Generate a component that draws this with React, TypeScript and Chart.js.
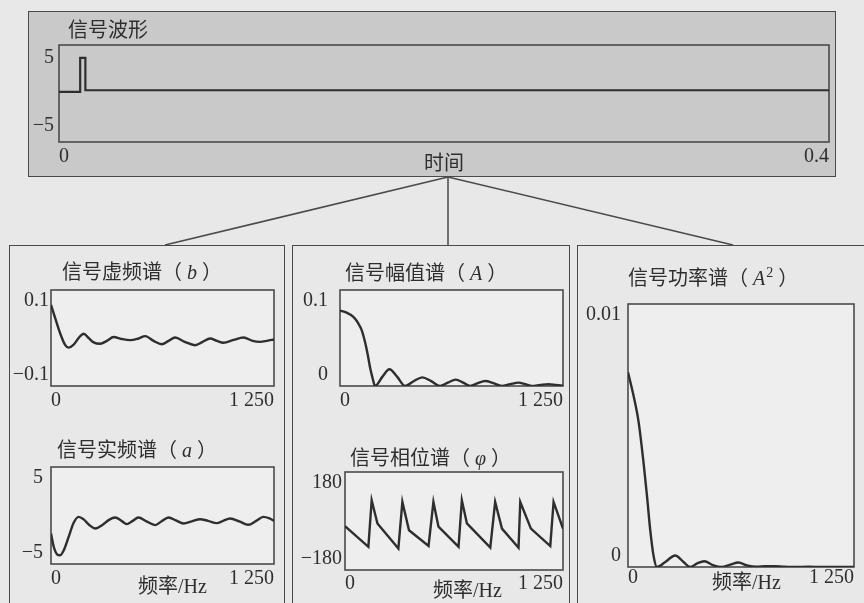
import React, { useEffect, useRef } from "react";
import { Chart, registerables } from "chart.js";
Chart.register(...registerables);

// ---------- data ----------
// time signal (s, value)
const sigTime = [0, 0.011, 0.011, 0.0137, 0.0137, 0.4];
const sigVals = [0, 0, 5, 5, 0.25, 0.25];

// imaginary spectrum b (Hz, value)
const imagFreq = [0, 24, 52, 80, 99, 127, 155, 183, 211, 239, 276, 313, 351, 395, 444, 490, 528, 575, 621, 659, 696, 750, 808, 850, 892, 930, 967, 1023, 1079, 1130, 1172, 1210, 1250];
const imagVals = [0.069, 0.041, 0.009, -0.015, -0.02, -0.014, 0.0, 0.009, 0.0, -0.009, -0.012, -0.006, 0.002, -0.002, -0.0045, -0.001, 0.004, -0.006, -0.013, -0.006, 0.001, -0.008, -0.015, -0.008, -0.001, -0.006, -0.01, -0.004, 0.001, -0.006, -0.008, -0.006, -0.003];

// real spectrum a (Hz, value)
const realFreq = [0, 15, 34, 50, 71, 99, 127, 155, 183, 216, 248, 290, 325, 360, 395, 425, 458, 490, 535, 584, 620, 659, 700, 743, 790, 836, 880, 929, 965, 1004, 1055, 1106, 1150, 1190, 1225, 1250];
const realVals = [-1.85, -3.2, -4.0, -4.1, -3.6, -2.2, -0.75, -0.14, -0.4, -1.0, -1.34, -0.95, -0.45, -0.21, -0.55, -0.89, -0.55, -0.21, -0.6, -0.99, -0.6, -0.21, -0.5, -0.82, -0.6, -0.38, -0.55, -0.79, -0.55, -0.31, -0.6, -0.96, -0.55, -0.14, -0.3, -0.55];

// amplitude spectrum A (Hz, value)
const ampFreq = [0, 37, 75, 100, 122, 140, 155, 170, 183, 196, 237, 277, 321, 365, 413, 462, 511, 561, 605, 649, 690, 730, 772, 814, 860, 907, 954, 1001, 1038, 1076, 1122, 1169, 1210, 1250];
const ampVals = [0.0785, 0.0765, 0.072, 0.066, 0.058, 0.046, 0.033, 0.018, 0.008, 0.0, 0.0095, 0.0174, 0.0095, 0.0, 0.005, 0.009, 0.005, 0.0, 0.0036, 0.0066, 0.0036, 0.0, 0.0029, 0.0052, 0.0029, 0.0, 0.0019, 0.0035, 0.0019, 0.0, 0.0011, 0.002, 0.0011, 0.0002];

// phase spectrum phi (Hz, degrees)
const phaseFreq = [0, 134, 153, 186, 306, 329, 367, 479, 507, 536, 651, 670, 699, 833, 861, 900, 995, 1005, 1066, 1177, 1196, 1250];
const phaseVals = [-19, -95, 76, -9, -101, 70, -34, -92, 70, -21, -95, 76, -9, -98, 70, -28, -98, 70, -28, -92, 70, -28];

// power spectrum A^2 (Hz, value)
const powFreq = [0, 31, 59, 87, 105, 123, 142, 160, 206, 261, 307, 344, 381, 422, 473, 519, 565, 611, 658, 712, 760, 814, 861, 907, 1001, 1076, 1169, 1250];
const powVals = [0.0074, 0.0065, 0.0055, 0.0039, 0.0027, 0.0014, 0.0004, 0, 0.00019, 0.00044, 0.00019, 0, 0.00013, 0.00022, 0.00006, 0, 0.00009, 0.00017, 0.00006, 0.00001, 0.00003, 0.00003, 0.00001, 0, 0.00001, 0, 0.000004, 0];

// tick values
const timeTicks = [0, 0.4];
const freqTicks = [0, 1250];
const sigTicks = [-5, 5];
const imagTicks = [-0.1, 0.1];
const realTicks = [-5, 5];
const ampTicks = [0, 0.1];
const phaseTicks = [-180, 180];
const powTicks = [0, 0.01];

// ---------- styles ----------
const INK = "#2e2e2e";
const FRAME = "#4a4a4a";
const PAGE = "#e8e8e8";
const BOX = "#c9c9c9";
const PLOT_BG = "#eeeeee";
const SERIF = "'Liberation Serif', 'Times New Roman', serif";
const MIX = "'Liberation Serif', 'Noto Sans CJK SC', serif";

const fmtNum = (v: number) => {
  const s = Math.abs(v) >= 1000 ? String(v).replace(/(\d)(\d{3})$/, "$1 $2") : String(v);
  return s.replace("-", "\u2212");
};

const framePlugin = {
  id: "frame",
  beforeDatasetsDraw(chart: any, _a: any, o: any) {
    const { ctx, chartArea: a } = chart;
    ctx.save();
    if (o.bg) {
      ctx.fillStyle = o.bg;
      ctx.fillRect(a.left, a.top, a.right - a.left, a.bottom - a.top);
    }
    ctx.strokeStyle = o.color;
    ctx.lineWidth = o.width;
    ctx.strokeRect(a.left, a.top, a.right - a.left, a.bottom - a.top);
    ctx.restore();
  },
};

type Spec = {
  xs: number[]; ys: number[];
  xMin: number; xMax: number; yMin: number; yMax: number;
  xTicks: number[]; yTicks: number[];
  shiftTop: boolean; shiftBottom: boolean;
  yWidth: number; xHeight: number; padTop: number; padRight: number;
  yPad: number; xPad: number; smooth: boolean; lw: number; bg: string | null;
};

function makeConfig(s: Spec): any {
  const yLabel = (v: number) => {
    const t = fmtNum(v);
    if (v === s.yTicks[s.yTicks.length - 1] && s.shiftTop) return ["", t];
    if (v === s.yTicks[0] && s.shiftBottom) return [t, ""];
    return t;
  };
  const zeroPad = (sc: any) => {
    sc.paddingLeft = 0; sc.paddingRight = 0; sc.paddingTop = 0; sc.paddingBottom = 0;
  };
  const tickFont = { family: SERIF, size: 20, lineHeight: 1.1 };
  return {
    type: "line",
    data: {
      datasets: [{
        data: s.xs.map((x, i) => ({ x, y: s.ys[i] })),
        borderColor: INK,
        borderWidth: s.lw,
        pointRadius: 0,
        fill: false,
        tension: s.smooth ? 0.4 : 0,
        cubicInterpolationMode: s.smooth ? "monotone" : "default",
      }],
    },
    options: {
      responsive: false,
      animation: false,
      devicePixelRatio: 1,
      events: [],
      layout: { padding: { top: s.padTop, right: s.padRight, left: 0, bottom: 0 } },
      plugins: {
        legend: { display: false },
        tooltip: { enabled: false },
        title: { display: false },
        frame: { bg: s.bg, color: FRAME, width: 1.6 },
      },
      scales: {
        x: {
          type: "linear", min: s.xMin, max: s.xMax,
          grid: { display: false, drawTicks: false },
          border: { display: false },
          afterBuildTicks: (sc: any) => { sc.ticks = s.xTicks.map((v) => ({ value: v })); },
          afterFit: (sc: any) => { sc.height = s.xHeight; zeroPad(sc); },
          ticks: {
            autoSkip: false, maxRotation: 0, minRotation: 0, align: "inner",
            padding: s.xPad, color: INK, font: tickFont,
            callback: (v: any) => fmtNum(Number(v)),
          },
        },
        y: {
          type: "linear", min: s.yMin, max: s.yMax,
          grid: { display: false, drawTicks: false },
          border: { display: false },
          afterBuildTicks: (sc: any) => { sc.ticks = s.yTicks.map((v) => ({ value: v })); },
          afterFit: (sc: any) => { sc.width = s.yWidth; zeroPad(sc); },
          ticks: {
            autoSkip: false, padding: s.yPad, color: INK, font: tickFont,
            callback: (v: any) => yLabel(Number(v)),
          },
        },
      },
    },
    plugins: [framePlugin],
  };
}

function MiniChart(p: { spec: Spec; left: number; top: number; width: number; height: number }) {
  const ref = useRef<HTMLCanvasElement>(null);
  useEffect(() => {
    const c = new Chart(ref.current as HTMLCanvasElement, makeConfig(p.spec));
    return () => c.destroy();
  }, []);
  return (
    <canvas
      ref={ref}
      width={p.width}
      height={p.height}
      style={{ position: "absolute", left: p.left, top: p.top, width: p.width, height: p.height }}
    />
  );
}

const base = { smooth: true, lw: 2.4, bg: PLOT_BG, shiftTop: true, shiftBottom: true, xMin: 0, xMax: 1250, xTicks: freqTicks };

const specs: { [k: string]: Spec } = {
  sig: { ...base, xs: sigTime, ys: sigVals, xMin: 0, xMax: 0.4, xTicks: timeTicks, yMin: -7.35, yMax: 6.9, yTicks: sigTicks, shiftTop: false, shiftBottom: false, yWidth: 29, xHeight: 30, padTop: 5, padRight: 5, yPad: 5, xPad: 4, smooth: false, lw: 2.2, bg: null } as Spec,
  imag: { ...base, xs: imagFreq, ys: imagVals, yMin: -0.1, yMax: 0.1, yTicks: imagTicks, yWidth: 39, xHeight: 29, padTop: 10, padRight: 8, yPad: 2, xPad: 4 } as Spec,
  real: { ...base, xs: realFreq, ys: realVals, yMin: -5, yMax: 5, yTicks: realTicks, yWidth: 39, xHeight: 31, padTop: 10, padRight: 8, yPad: 8, xPad: 4 } as Spec,
  amp: { ...base, xs: ampFreq, ys: ampVals, yMin: 0, yMax: 0.1, yTicks: ampTicks, yWidth: 44, xHeight: 29, padTop: 10, padRight: 5, yPad: 12, xPad: 4 } as Spec,
  phase: { ...base, xs: phaseFreq, ys: phaseVals, yMin: -180, yMax: 180, yTicks: phaseTicks, yWidth: 49, xHeight: 30, padTop: 10, padRight: 5, yPad: 3, xPad: 3, smooth: false } as Spec,
  pow: { ...base, xs: powFreq, ys: powVals, yMin: 0, yMax: 0.01, yTicks: powTicks, yWidth: 47, xHeight: 31, padTop: 10, padRight: 6, yPad: 7, xPad: 0 } as Spec,
};

const txt = (left: number, cy: number, content: React.ReactNode, size = 20) => (
  <div
    style={{
      position: "absolute", left, top: cy - size / 2, height: size, lineHeight: `${size}px`,
      fontSize: size, fontFamily: MIX, color: INK, whiteSpace: "nowrap",
    }}
  >
    {content}
  </div>
);

const it = (s: string, sup?: string) => (
  <span style={{ fontFamily: SERIF, fontStyle: "italic", margin: "0 5px" }}>
    {s}
    {sup ? <span style={{ fontStyle: "normal", fontSize: 14, position: "relative", top: -8, marginLeft: 1 }}>{sup}</span> : null}
  </span>
);

export default function App() {
  const panel = (left: number, width: number) => (
    <div style={{ position: "absolute", left, top: 245, width, height: 420, border: `1.5px solid ${FRAME}`, boxSizing: "border-box" }} />
  );
  return (
    <div style={{ position: "relative", width: 864, height: 603, overflow: "hidden", background: PAGE }}>
      <style>{`body{margin:0;background:${PAGE};}`}</style>
      <div style={{ position: "absolute", left: 28, top: 11, width: 808, height: 166, background: BOX, border: `1.5px solid ${FRAME}`, boxSizing: "border-box" }} />
      {panel(9, 276)}
      {panel(292, 278)}
      {panel(577, 300)}
      <svg width={864} height={603} style={{ position: "absolute", left: 0, top: 0 }}>
        <line x1={448} y1={177} x2={165} y2={245} stroke={FRAME} strokeWidth={1.5} />
        <line x1={448} y1={177} x2={448} y2={245} stroke={FRAME} strokeWidth={1.5} />
        <line x1={448} y1={177} x2={733} y2={245} stroke={FRAME} strokeWidth={1.5} />
      </svg>

      <MiniChart spec={specs.sig} left={30} top={40} width={804} height={132} />
      <MiniChart spec={specs.imag} left={12} top={280} width={270} height={135} />
      <MiniChart spec={specs.real} left={12} top={457} width={270} height={138} />
      <MiniChart spec={specs.amp} left={296} top={280} width={272} height={135} />
      <MiniChart spec={specs.phase} left={296} top={462} width={272} height={138} />
      <MiniChart spec={specs.pow} left={581} top={294} width={279} height={304} />

      {txt(68, 30, "信号波形")}
      {txt(424, 163, "时间")}
      {txt(62, 272, <>信号虚频谱（{it("b")}）</>)}
      {txt(57, 450, <>信号实频谱（{it("a")}）</>)}
      {txt(345, 273, <>信号幅值谱（{it("A")}）</>)}
      {txt(350, 458, <>信号相位谱（{it("φ")}）</>)}
      {txt(628, 278, <>信号功率谱（{it("A", "2")}）</>)}
      {txt(138, 586, "频率/Hz")}
      {txt(433, 590, "频率/Hz")}
      {txt(712, 582, "频率/Hz")}
    </div>
  );
}
